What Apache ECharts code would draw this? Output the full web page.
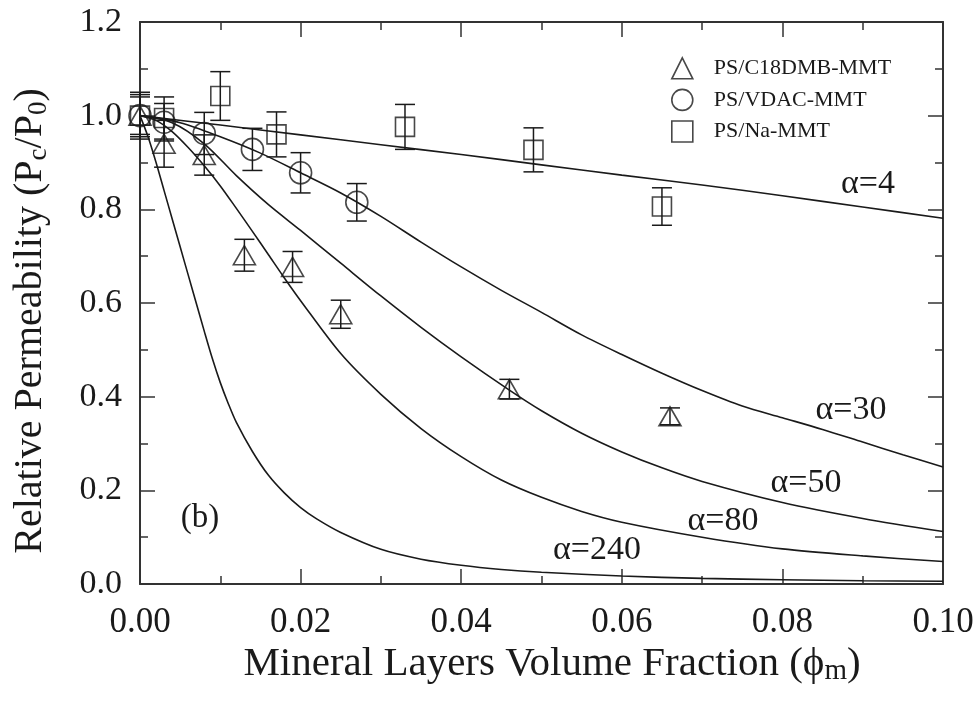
<!DOCTYPE html>
<html><head><meta charset="utf-8">
<script src="https://cdn.jsdelivr.net/npm/echarts@6/dist/echarts.min.js"></script>
<style>html,body{margin:0;padding:0;background:#fff}#c{width:979px;height:707px}</style>
</head><body><div id="c"></div>
<script>
// ---- tick labels ----
const xTicks = ['0.00','0.02','0.04','0.06','0.08','0.10'];
const yTicks = ['0.0','0.2','0.4','0.6','0.8','1.0','1.2'];

// ---- experimental data ----
const seriesNames = ['PS/C18DMB-MMT','PS/VDAC-MMT','PS/Na-MMT'];
const triX = [0, 0.003, 0.008, 0.013, 0.019, 0.025, 0.046, 0.066];
const triY = [1.0, 0.94, 0.916, 0.702, 0.677, 0.576, 0.416, 0.358];
const triErr = [0.045, 0.05, 0.043, 0.034, 0.033, 0.03, 0.021, 0.018];

const cirX = [0, 0.003, 0.008, 0.014, 0.020, 0.027];
const cirY = [1.0, 0.986, 0.962, 0.928, 0.878, 0.815];
const cirErr = [0.04, 0.04, 0.045, 0.045, 0.043, 0.04];

const sqX = [0, 0.003, 0.010, 0.017, 0.033, 0.049, 0.065];
const sqY = [1.0, 0.995, 1.042, 0.96, 0.976, 0.927, 0.806];
const sqErr = [0.05, 0.045, 0.052, 0.048, 0.048, 0.047, 0.04];

// ---- model curves ----
const a4X = [0,0.01,0.02,0.03,0.04,0.05,0.06,0.07,0.08,0.09,0.10];
const a4Y = [1.0,0.98,0.959,0.938,0.917,0.895,0.873,0.852,0.829,0.805,0.781];

const a30X = [0,0.005,0.010,0.015,0.020,0.025,0.030,0.035,0.040,0.045,0.050,0.055,0.060,0.065,0.070,0.075,0.080,0.085,0.090,0.095,0.100];
const a30Y = [1.0,0.985,0.955,0.92,0.878,0.835,0.785,0.73,0.677,0.627,0.58,0.532,0.49,0.45,0.413,0.38,0.355,0.33,0.303,0.276,0.25];

const a50X = [0,0.004,0.008,0.012,0.016,0.020,0.025,0.030,0.035,0.040,0.046,0.050,0.055,0.060,0.065,0.070,0.080,0.090,0.100];
const a50Y = [1.0,0.985,0.94,0.872,0.81,0.755,0.685,0.615,0.548,0.485,0.414,0.37,0.322,0.282,0.248,0.219,0.174,0.14,0.112];

const a80X = [0,0.002,0.004,0.006,0.008,0.010,0.012,0.014,0.016,0.018,0.020,0.025,0.030,0.035,0.040,0.045,0.050,0.055,0.060,0.070,0.080,0.090,0.100];
const a80Y = [1.0,0.99,0.966,0.932,0.893,0.85,0.802,0.753,0.703,0.653,0.605,0.492,0.405,0.332,0.272,0.222,0.185,0.155,0.132,0.10,0.075,0.06,0.048];

const a240X = [0,0.001,0.002,0.003,0.004,0.005,0.006,0.007,0.008,0.009,0.010,0.011,0.012,0.014,0.016,0.018,0.020,0.022,0.025,0.030,0.035,0.040,0.045,0.050,0.060,0.070,0.080,0.090,0.100];
const a240Y = [1.0,0.955,0.9,0.84,0.78,0.72,0.66,0.6,0.54,0.482,0.43,0.385,0.345,0.283,0.232,0.194,0.163,0.139,0.11,0.074,0.053,0.040,0.031,0.025,0.017,0.012,0.009,0.007,0.006];

const curveLabels = ['α=4','α=30','α=50','α=80','α=240'];
const panelLabel = '(b)';

const FONT = "'Liberation Serif','DejaVu Serif',serif";
const INK = '#1a1a1a';
const AX = '#333';

function pairs(xs, ys){ return xs.map((x,i)=>[x, ys[i]]); }
function triples(xs, ys, es){ return xs.map((x,i)=>[x, ys[i], es[i]]); }

function errRender(params, api){
  const x = api.value(0), y = api.value(1), e = api.value(2);
  const t = api.coord([x, y + e]), b = api.coord([x, y - e]);
  const hw = 10;
  const st = {stroke: INK, lineWidth: 1.5};
  return {type:'group', children:[
    {type:'line', shape:{x1:t[0], y1:t[1], x2:b[0], y2:b[1]}, style:st},
    {type:'line', shape:{x1:t[0]-hw, y1:t[1], x2:t[0]+hw, y2:t[1]}, style:st},
    {type:'line', shape:{x1:b[0]-hw, y1:b[1], x2:b[0]+hw, y2:b[1]}, style:st}
  ]};
}

function curve(xs, ys){
  return {type:'line', data: pairs(xs, ys), symbol:'none', smooth:0.3,
    lineStyle:{color:INK, width:1.6}, silent:true, z:2};
}

const hollow = {color:'rgba(0,0,0,0)', borderColor: INK, borderWidth: 1.6};

const axisCommon = {
  axisLine:{show:true, onZero:false, lineStyle:{color:AX, width:2}},
  axisTick:{show:true, inside:true, length:15, lineStyle:{color:AX, width:1.5}},
  minorTick:{show:true, splitNumber:2, length:8, lineStyle:{color:AX, width:1.5}},
  splitLine:{show:false}, minorSplitLine:{show:false}
};

const chart = echarts.init(document.getElementById('c'), null, {renderer:'canvas'});
chart.setOption({
  backgroundColor:'#fff',
  animation:false,
  grid:{left:140, right:36, top:22, bottom:123, containLabel:false},
  xAxis:[
    Object.assign({type:'value', min:0, max:0.1, interval:0.02, position:'bottom',
      axisLabel:{show:true, margin:21, color:INK, fontFamily:FONT, fontSize:35,
        formatter:(v)=>xTicks[Math.round(v/0.02)]}}, axisCommon),
    Object.assign({type:'value', min:0, max:0.1, interval:0.02, position:'top',
      axisLabel:{show:false}}, axisCommon)
  ],
  yAxis:[
    Object.assign({type:'value', min:0, max:1.2, interval:0.2, position:'left',
      axisLabel:{show:true, margin:18, color:INK, fontFamily:FONT, fontSize:34,
        formatter:(v)=>yTicks[Math.round(v/0.2)]}}, axisCommon),
    Object.assign({type:'value', min:0, max:1.2, interval:0.2, position:'right',
      axisLabel:{show:false}}, axisCommon)
  ],
  legend:{
    show:true, orient:'vertical', left:671, top:57, padding:0, itemGap:9,
    itemWidth:21, itemHeight:21,
    data:seriesNames,
    textStyle:{fontFamily:FONT, fontSize:22, color:INK, padding:[0,0,0,16]},
    itemStyle:{color:'rgba(0,0,0,0)', borderColor:INK, borderWidth:1.6}
  },
  series:[
    curve(a4X, a4Y), curve(a30X, a30Y), curve(a50X, a50Y), curve(a80X, a80Y), curve(a240X, a240Y),
    {type:'custom', renderItem:errRender, data:triples(triX, triY, triErr), silent:true, z:3, encode:{x:0,y:1}},
    {type:'custom', renderItem:errRender, data:triples(cirX, cirY, cirErr), silent:true, z:3, encode:{x:0,y:1}},
    {type:'custom', renderItem:errRender, data:triples(sqX, sqY, sqErr), silent:true, z:3, encode:{x:0,y:1}},
    {name:seriesNames[0], type:'scatter', symbol:'triangle', symbolSize:[22,19], data:pairs(triX, triY), itemStyle:hollow, z:4},
    {name:seriesNames[1], type:'scatter', symbol:'circle', symbolSize:22, data:pairs(cirX, cirY), itemStyle:hollow, z:4},
    {name:seriesNames[2], type:'scatter', symbol:'rect', symbolSize:19, data:pairs(sqX, sqY), itemStyle:hollow, z:4}
  ],
  graphic:[
    {type:'text', x:868, y:184, style:{text:curveLabels[0], font:"34px "+FONT, fill:INK, textAlign:'center', textVerticalAlign:'middle'}},
    {type:'text', x:851, y:410, style:{text:curveLabels[1], font:"34px "+FONT, fill:INK, textAlign:'center', textVerticalAlign:'middle'}},
    {type:'text', x:806, y:483, style:{text:curveLabels[2], font:"34px "+FONT, fill:INK, textAlign:'center', textVerticalAlign:'middle'}},
    {type:'text', x:723, y:521, style:{text:curveLabels[3], font:"34px "+FONT, fill:INK, textAlign:'center', textVerticalAlign:'middle'}},
    {type:'text', x:597, y:550, style:{text:curveLabels[4], font:"34px "+FONT, fill:INK, textAlign:'center', textVerticalAlign:'middle'}},
    {type:'text', x:200, y:518, style:{text:panelLabel, font:"33px "+FONT, fill:INK, textAlign:'center', textVerticalAlign:'middle'}},
    {type:'text', x:552, y:664, style:{
      text:'{a|Mineral Layers Volume Fraction (ϕ}{s|m}{a|)}',
      textAlign:'center', textVerticalAlign:'middle', fill:INK,
      rich:{a:{fontFamily:FONT, fontSize:41, lineHeight:44, fill:INK}, s:{fontFamily:FONT, fontSize:29, lineHeight:24, verticalAlign:'bottom', fill:INK}}
    }},
    {type:'text', x:30, y:321, rotation:Math.PI/2, style:{
      text:'{a|Relative Permeability (P}{s|c}{a|/P}{s|0}{a|)}',
      textAlign:'center', textVerticalAlign:'middle', fill:INK,
      rich:{a:{fontFamily:FONT, fontSize:40, lineHeight:44, fill:INK}, s:{fontFamily:FONT, fontSize:27, lineHeight:24, verticalAlign:'bottom', fill:INK}}
    }}
  ]
});
</script></body></html>
